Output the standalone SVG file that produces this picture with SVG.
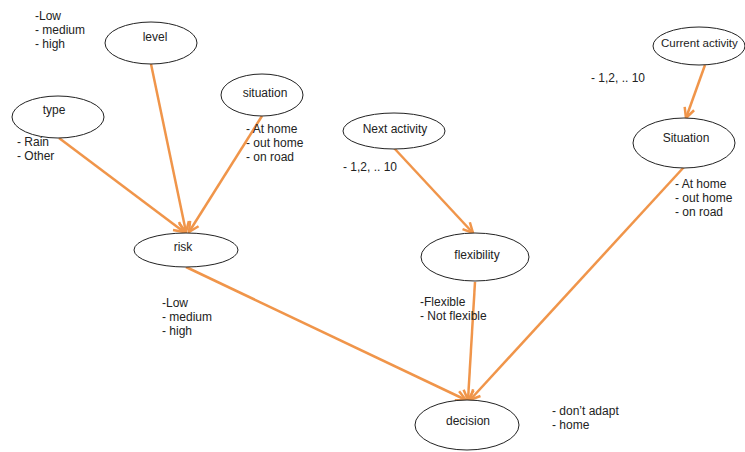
<svg xmlns="http://www.w3.org/2000/svg" width="745" height="452" viewBox="0 0 745 452">
<style>
.n ellipse{fill:#fff;stroke:#222;stroke-width:1}
text{font-family:"Liberation Sans",Arial,sans-serif;font-size:12px;fill:#222}
.c line{stroke:#F0954A;stroke-width:2.5;fill:none}
</style>
<defs>
<marker id="ah" markerUnits="userSpaceOnUse" markerWidth="14" markerHeight="14" refX="11" refY="6" orient="auto" viewBox="0 0 14 12">
<path d="M1,1 L11,6 L1,11" fill="none" stroke="#F0954A" stroke-width="2.5"/>
</marker>
</defs>
<rect width="745" height="452" fill="#fff"/>
<g id="connectors" class="c">
<line x1="151" y1="64" x2="186" y2="232" marker-end="url(#ah)"/>
<line x1="59" y1="138" x2="184" y2="232" marker-end="url(#ah)"/>
<line x1="262" y1="116" x2="189" y2="232" marker-end="url(#ah)"/>
<line x1="186" y1="267" x2="466" y2="400" marker-end="url(#ah)"/>
<line x1="394" y1="148" x2="473" y2="233" marker-end="url(#ah)"/>
<line x1="475" y1="282" x2="468" y2="400" marker-end="url(#ah)"/>
<line x1="684" y1="167" x2="470" y2="400" marker-end="url(#ah)"/>
<line x1="705" y1="65" x2="686" y2="118" marker-end="url(#ah)"/>
</g>
<g id="level" class="n"><ellipse cx="151" cy="43" rx="46" ry="21"/><text x="155" y="41" text-anchor="middle">level</text></g>
<g id="type" class="n"><ellipse cx="58" cy="117" rx="46" ry="21"/><text x="54" y="114" text-anchor="middle">type</text></g>
<g id="situation" class="n"><ellipse cx="262" cy="95" rx="41" ry="21"/><text x="265" y="97" text-anchor="middle">situation</text></g>
<g id="next-activity" class="n"><ellipse cx="394" cy="131" rx="51" ry="18"/><text x="395" y="133" text-anchor="middle">Next activity</text></g>
<g id="current-activity" class="n"><ellipse cx="699" cy="46" rx="46" ry="19"/><text x="661" y="47" style="font-size:11.5px">Current activity</text></g>
<g id="Situation" class="n"><ellipse cx="684" cy="143" rx="51" ry="25"/><text x="686" y="142" text-anchor="middle">Situation</text></g>
<g id="risk" class="n"><ellipse cx="186" cy="250" rx="52" ry="17"/><text x="183" y="251" text-anchor="middle">risk</text></g>
<g id="flexibility" class="n"><ellipse cx="475" cy="257" rx="54" ry="24"/><text x="477" y="259" text-anchor="middle">flexibility</text></g>
<g id="decision" class="n"><ellipse cx="467" cy="425" rx="52" ry="25"/><text x="468" y="425" text-anchor="middle">decision</text></g>
<g id="labels">
<text x="35" y="20">-Low</text><text x="35" y="34">- medium</text><text x="35" y="48">- high</text>
<text x="17" y="146">- Rain</text><text x="17" y="160">- Other</text>
<text x="246" y="133">- At home</text><text x="246" y="147">- out home</text><text x="246" y="161">- on road</text>
<text x="343" y="171">- 1,2, .. 10</text>
<text x="591" y="82">- 1,2, .. 10</text>
<text x="675" y="188">- At home</text><text x="675" y="202">- out home</text><text x="675" y="216">- on road</text>
<text x="162" y="307">-Low</text><text x="162" y="321">- medium</text><text x="162" y="335">- high</text>
<text x="420" y="306">-Flexible</text><text x="420" y="320">- Not flexible</text>
<text x="552" y="415">- don’t adapt</text><text x="552" y="429">- home</text>
</g>
</svg>
